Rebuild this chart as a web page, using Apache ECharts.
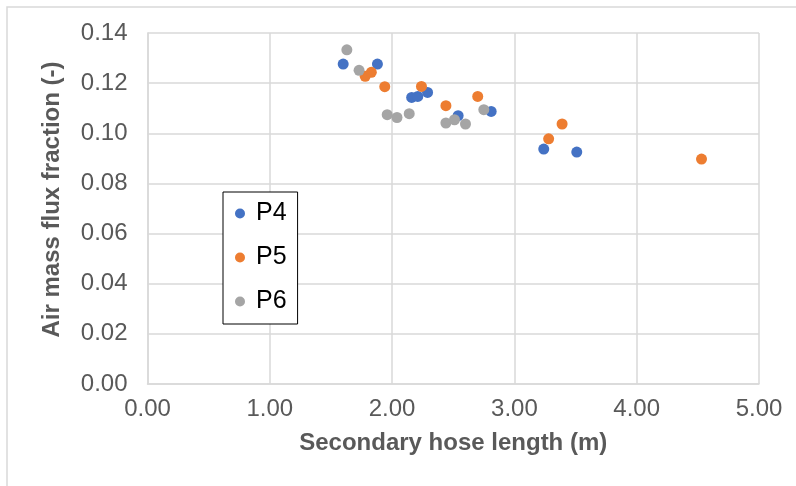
<!DOCTYPE html>
<html>
<head>
<meta charset="utf-8">
<script src="https://cdn.jsdelivr.net/npm/echarts@6/dist/echarts.min.js"></script>
<style>
  html, body { margin: 0; padding: 0; background: #ffffff; }
  #chart { width: 796px; height: 486px; }
</style>
</head>
<body>
<div id="chart"></div>
<script>
// Secondary hose length (m) vs air mass flux fraction (-), per position
const p4Length = [1.60, 1.88, 2.16, 2.21, 2.29, 2.54, 2.81, 3.24, 3.51];
const p4Flux   = [0.1276, 0.1276, 0.1143, 0.1147, 0.1163, 0.1070, 0.1087, 0.0937, 0.0925];

const p5Length = [1.78, 1.83, 1.94, 2.24, 2.44, 2.70, 3.28, 3.39, 4.53];
const p5Flux   = [0.1227, 0.1243, 0.1186, 0.1187, 0.1110, 0.1147, 0.0978, 0.1037, 0.0897];

const p6Length = [1.63, 1.73, 1.96, 2.04, 2.14, 2.44, 2.51, 2.60, 2.75];
const p6Flux   = [0.1333, 0.1251, 0.1074, 0.1063, 0.1078, 0.1041, 0.1054, 0.1037, 0.1094];

const seriesNames = ['P4', 'P5', 'P6'];
const seriesColors = ['#4472C4', '#ED7D31', '#A5A5A5'];

const xTicks = { min: 0, max: 5, interval: 1 };
const yTicks = { min: 0, max: 0.14, interval: 0.02 };

function pairs(xs, ys) {
  return xs.map((x, i) => [x, ys[i]]);
}

const chart = echarts.init(document.getElementById('chart'), null, { renderer: 'canvas' });

const gridColor = '#d9d9d9';
const textColor = '#595959';
const fontFamily = 'Liberation Sans, Arial, sans-serif';

chart.setOption({
  animation: false,
  backgroundColor: '#ffffff',
  graphic: [{
    type: 'rect',
    shape: { x: 7, y: 7, width: 900, height: 600 },
    style: { fill: 'none', stroke: gridColor, lineWidth: 1.5 },
    z: -1
  }],
  grid: { left: 147.5, right: 37, top: 33, bottom: 102, containLabel: false },
  legend: {
    orient: 'vertical',
    left: 223,
    top: 192,
    data: seriesNames,
    icon: 'circle',
    itemWidth: 10,
    itemHeight: 10,
    itemGap: 19,
    padding: [9, 11, 10, 12],
    borderColor: '#000000',
    borderWidth: 1,
    backgroundColor: '#ffffff',
    textStyle: { fontSize: 25, color: '#000000', fontFamily: fontFamily, padding: [0, 0, 0, 6] }
  },
  xAxis: {
    type: 'value',
    min: xTicks.min,
    max: xTicks.max,
    interval: xTicks.interval,
    name: 'Secondary hose length (m)',
    nameLocation: 'middle',
    nameGap: 47,
    nameTextStyle: { fontSize: 24, fontWeight: 'bold', color: textColor, fontFamily: fontFamily },
    axisLine: { show: true, lineStyle: { color: gridColor, width: 1.5 } },
    axisTick: { show: false },
    axisLabel: {
      margin: 13,
      fontSize: 24,
      color: textColor,
      fontFamily: fontFamily,
      formatter: v => v.toFixed(2)
    },
    splitLine: { show: true, lineStyle: { color: gridColor, width: 1.5 } }
  },
  yAxis: {
    type: 'value',
    min: yTicks.min,
    max: yTicks.max,
    interval: yTicks.interval,
    name: 'Air mass flux fraction (-)',
    nameLocation: 'middle',
    nameGap: 83,
    nameTextStyle: { fontSize: 24, fontWeight: 'bold', color: textColor, fontFamily: fontFamily, padding: [0, 0, 0, 18] },
    axisLine: { show: true, lineStyle: { color: gridColor, width: 1.5 } },
    axisTick: { show: false },
    axisLabel: {
      margin: 20,
      fontSize: 24,
      color: textColor,
      fontFamily: fontFamily,
      formatter: v => v.toFixed(2)
    },
    splitLine: { show: true, lineStyle: { color: gridColor, width: 1.5 } }
  },
  series: [
    { name: 'P4', type: 'scatter', symbolSize: 11, itemStyle: { color: seriesColors[0], opacity: 1 }, data: pairs(p4Length, p4Flux) },
    { name: 'P5', type: 'scatter', symbolSize: 11, itemStyle: { color: seriesColors[1], opacity: 1 }, data: pairs(p5Length, p5Flux) },
    { name: 'P6', type: 'scatter', symbolSize: 11, itemStyle: { color: seriesColors[2], opacity: 1 }, data: pairs(p6Length, p6Flux) }
  ]
});
</script>
</body>
</html>
